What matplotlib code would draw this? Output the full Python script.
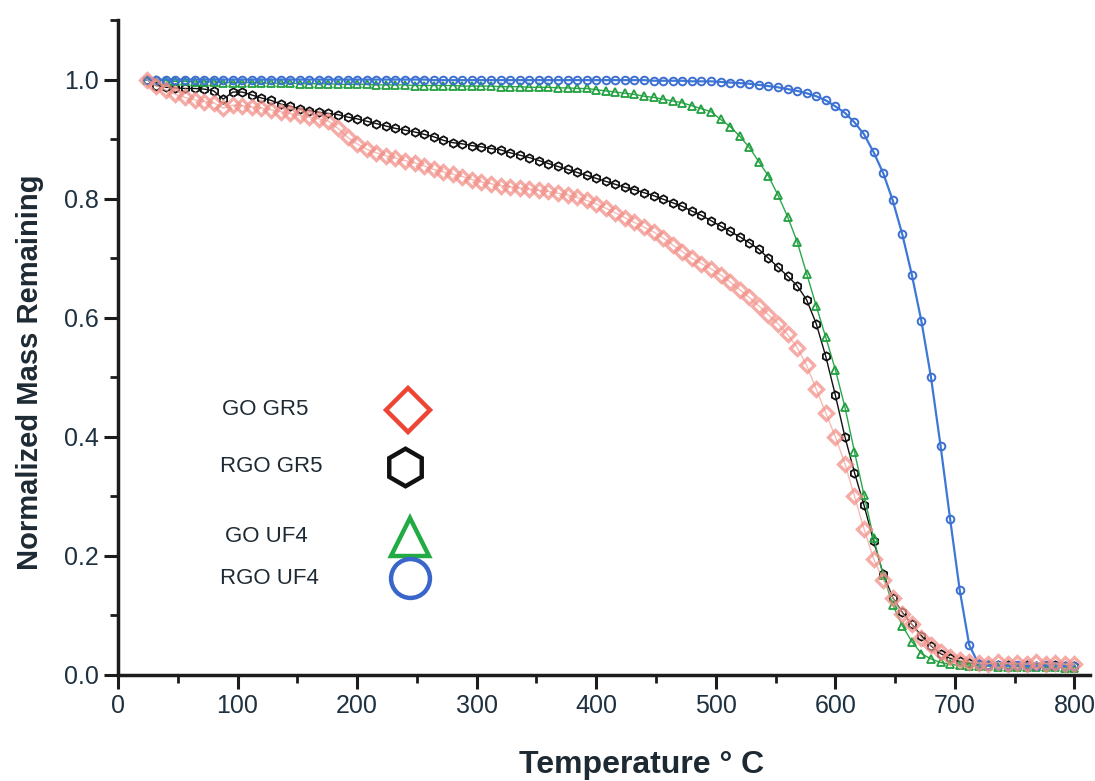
import matplotlib
matplotlib.use("Agg")
import matplotlib.pyplot as plt
from matplotlib.ticker import MultipleLocator

plt.rcParams['font.family'] = ['Liberation Sans', 'DejaVu Sans']

# Temperature (deg C) sampling
temperature = [
    24, 32, 40, 48, 56, 64, 72, 80, 88, 96,
    104, 112, 120, 128, 136, 144, 152, 160, 168, 176,
    184, 192, 200, 208, 216, 224, 232, 240, 248, 256,
    264, 272, 280, 288, 296, 304, 312, 320, 328, 336,
    344, 352, 360, 368, 376, 384, 392, 400, 408, 416,
    424, 432, 440, 448, 456, 464, 472, 480, 488, 496,
    504, 512, 520, 528, 536, 544, 552, 560, 568, 576,
    584, 592, 600, 608, 616, 624, 632, 640, 648, 656,
    664, 672, 680, 688, 696, 704, 712, 720, 728, 736,
    744, 752, 760, 768, 776, 784, 792, 800,
]

go_gr5 = [
    1.000, 0.990, 0.982, 0.975, 0.970, 0.966, 0.963, 0.961, 0.952, 0.957,
    0.956, 0.954, 0.952, 0.949, 0.946, 0.943, 0.940, 0.937, 0.934, 0.930,
    0.918, 0.903, 0.892, 0.883, 0.877, 0.872, 0.868, 0.864, 0.860, 0.855,
    0.849, 0.845, 0.841, 0.837, 0.832, 0.828, 0.825, 0.822, 0.820, 0.818,
    0.816, 0.814, 0.812, 0.809, 0.806, 0.802, 0.797, 0.791, 0.784, 0.776,
    0.768, 0.760, 0.752, 0.744, 0.734, 0.722, 0.711, 0.700, 0.691, 0.682,
    0.672, 0.660, 0.647, 0.634, 0.620, 0.605, 0.590, 0.572, 0.550, 0.520,
    0.480, 0.440, 0.400, 0.355, 0.300, 0.245, 0.195, 0.160, 0.130, 0.103,
    0.085, 0.062, 0.050, 0.038, 0.030, 0.025, 0.022, 0.020, 0.019, 0.021,
    0.019, 0.020, 0.018, 0.021, 0.019, 0.020, 0.018, 0.019,
]

rgo_gr5 = [
    1.000, 0.990, 0.987, 0.986, 0.985, 0.985, 0.984, 0.981, 0.967, 0.979,
    0.979, 0.974, 0.969, 0.965, 0.959, 0.955, 0.951, 0.948, 0.945, 0.943,
    0.941, 0.937, 0.934, 0.930, 0.926, 0.922, 0.918, 0.915, 0.912, 0.908,
    0.904, 0.898, 0.894, 0.892, 0.889, 0.887, 0.884, 0.882, 0.877, 0.873,
    0.869, 0.864, 0.859, 0.854, 0.849, 0.844, 0.839, 0.834, 0.829, 0.824,
    0.819, 0.815, 0.810, 0.805, 0.799, 0.793, 0.787, 0.779, 0.772, 0.763,
    0.754, 0.745, 0.736, 0.726, 0.715, 0.700, 0.685, 0.670, 0.654, 0.630,
    0.590, 0.535, 0.470, 0.400, 0.340, 0.285, 0.225, 0.170, 0.130, 0.105,
    0.085, 0.066, 0.049, 0.036, 0.028, 0.023, 0.020, 0.018, 0.017, 0.016,
    0.016, 0.015, 0.016, 0.015, 0.015, 0.016, 0.015, 0.015,
]

go_uf4 = [
    1.000, 0.999, 0.998, 0.997, 0.997, 0.996, 0.996, 0.996, 0.995, 0.995,
    0.995, 0.995, 0.994, 0.994, 0.994, 0.994, 0.993, 0.993, 0.993, 0.993,
    0.992, 0.992, 0.992, 0.992, 0.991, 0.991, 0.991, 0.991, 0.990, 0.990,
    0.990, 0.990, 0.990, 0.989, 0.989, 0.989, 0.989, 0.988, 0.988, 0.988,
    0.987, 0.987, 0.987, 0.986, 0.986, 0.985, 0.985, 0.983, 0.981, 0.979,
    0.977, 0.975, 0.972, 0.970, 0.967, 0.964, 0.961, 0.956, 0.951, 0.946,
    0.933, 0.921, 0.905, 0.886, 0.862, 0.838, 0.806, 0.770, 0.728, 0.674,
    0.620, 0.567, 0.513, 0.450, 0.375, 0.302, 0.230, 0.168, 0.118, 0.083,
    0.056, 0.036, 0.027, 0.021, 0.018, 0.016, 0.015, 0.015, 0.015, 0.014,
    0.014, 0.014, 0.013, 0.013, 0.013, 0.013, 0.012, 0.012,
]

rgo_uf4 = [
    1.000, 1.000, 1.000, 1.000, 1.000, 1.000, 1.000, 1.000, 1.000, 1.000,
    1.000, 1.000, 1.000, 1.000, 1.000, 1.000, 1.000, 1.000, 1.000, 1.000,
    1.000, 1.000, 1.000, 1.000, 1.000, 1.000, 1.000, 1.000, 1.000, 1.000,
    0.999, 0.999, 0.999, 0.999, 0.999, 0.999, 0.999, 0.999, 0.999, 0.999,
    0.999, 0.999, 0.999, 0.999, 0.999, 0.999, 0.999, 0.999, 0.999, 0.999,
    0.999, 0.999, 0.999, 0.998, 0.998, 0.998, 0.998, 0.997, 0.997, 0.997,
    0.996, 0.995, 0.994, 0.993, 0.991, 0.989, 0.987, 0.984, 0.981, 0.977,
    0.972, 0.965, 0.955, 0.944, 0.928, 0.908, 0.878, 0.843, 0.797, 0.740,
    0.672, 0.594, 0.500, 0.385, 0.262, 0.143, 0.050, 0.018, 0.016, 0.016,
    0.015, 0.016, 0.015, 0.015, 0.016, 0.015, 0.015, 0.015,
]

series_labels = ["GO GR5", "RGO GR5", "GO UF4", "RGO UF4"]

x_ticks = [0, 100, 200, 300, 400, 500, 600, 700, 800]
y_ticks = [0.0, 0.2, 0.4, 0.6, 0.8, 1.0]

fig = plt.figure(figsize=(10.95, 7.81), dpi=100)
ax = fig.add_axes([118 / 1095, 1 - 675 / 781, 972 / 1095, 655 / 781])

dark = "#1c1c1c"

ax.plot(temperature, rgo_gr5, color="#111111", lw=1.0, marker="h", ms=6,
        mfc="none", mec="#111111", mew=1.3, zorder=3)
ax.plot(temperature, go_uf4, color="#2aa84a", lw=1.0, marker="^", ms=6,
        mfc="none", mec="#22a040", mew=1.3, zorder=4)
ax.plot(temperature, rgo_uf4, color="#3c78d8", lw=1.6, marker="o", ms=5.5,
        mfc="none", mec="#3c6fd0", mew=1.4, zorder=5)
ax.plot(temperature, go_gr5, color="#f4a39a", lw=1.0, marker="D", ms=7,
        mfc="none", mec="#f29088", mew=2.4, alpha=0.75, zorder=6)

ax.set_xlim(0, 813)
ax.set_ylim(0, 1.1)
ax.set_xticks(x_ticks)
ax.set_yticks(y_ticks)
ax.set_xticklabels([str(v) for v in x_ticks])
ax.set_yticklabels([f"{v:.1f}" for v in y_ticks])
ax.xaxis.set_minor_locator(MultipleLocator(50))
ax.yaxis.set_minor_locator(MultipleLocator(0.1))

for side in ["top", "right"]:
    ax.spines[side].set_visible(False)
for side in ["left", "bottom"]:
    ax.spines[side].set_linewidth(2.5)
    ax.spines[side].set_color(dark)

ax.tick_params(axis="both", which="major", direction="out", length=10,
               width=2.2, color=dark, labelsize=18, labelcolor="#1e3140", pad=4)
ax.tick_params(axis="both", which="minor", direction="out", length=6,
               width=2.0, color=dark)

fig.text(642 / 1095, 1 - 765 / 781, "Temperature \u00b0 C", fontsize=23,
         fontweight="bold", color="#1e2a33", ha="center", va="center")
fig.text(30 / 1095, 1 - 372 / 781, "Normalized Mass Remaining", fontsize=21,
         fontweight="bold", color="#1e2a33", ha="center", va="center",
         rotation=90)

# Manual legend
legend_styles = [
    dict(marker="D", ms=22, mec="#ee4433"),
    dict(marker="h", ms=27, mec="#111111"),
    dict(marker="^", ms=27, mec="#22aa44"),
    dict(marker="o", ms=28, mec="#3a66cc"),
]
text_pos = [(0.107, 0.405), (0.105, 0.318), (0.110, 0.211), (0.105, 0.148)]
mark_x = [0.298, 0.295, 0.300, 0.300]
for lab, (tx, ty), mx, st in zip(series_labels, text_pos, mark_x, legend_styles):
    ax.text(tx, ty, lab, transform=ax.transAxes, fontsize=16,
            color="#1e2a33", va="center", ha="left")
    ax.plot([mx], [ty], transform=ax.transAxes, linestyle="none",
            mfc="none", mew=3.2, clip_on=False, **st)

fig.savefig("out.png", dpi=100)
